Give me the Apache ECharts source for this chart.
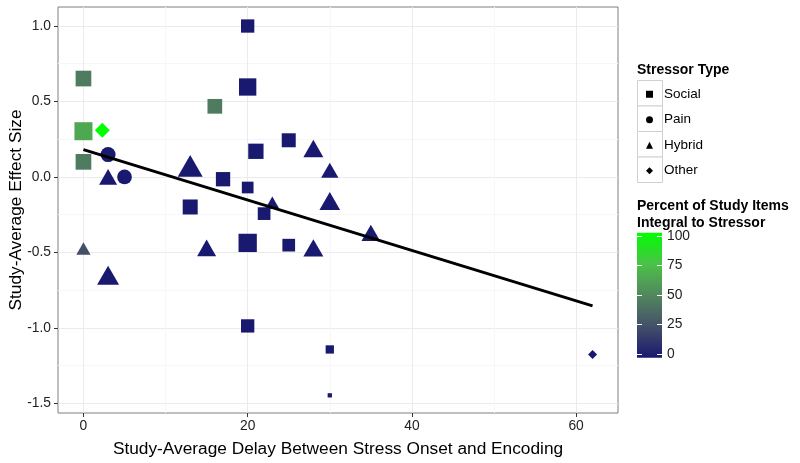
<!DOCTYPE html>
<html><head><meta charset="utf-8">
<script src="https://cdn.jsdelivr.net/npm/echarts@6/dist/echarts.min.js"></script>
<style>html,body{margin:0;padding:0;background:#fff}#c{width:800px;height:463px}</style>
</head><body><div id="c"></div>
<script>
// ---- data ----
const delay  = [20, 0, 20, 16, 0, 2.3, 3, 0, 3, 5, 13, 17, 20, 21, 25, 28, 30, 13, 22, 23, 30, 0, 3, 15, 20, 25, 28, 20, 30, 30, 35, 62];
const effect = [1.00, 0.652, 0.596, 0.468, 0.303, 0.309, 0.148, 0.10, 0.0, 0.0, 0.073, -0.015, -0.07, 0.17, 0.243, 0.188, 0.044, -0.199, -0.243, -0.17, -0.16, -0.474, -0.651, -0.47, -0.437, -0.452, -0.47, -0.987, -1.143, -1.447, -0.371, -1.176];
const stressorType = ['Social','Social','Social','Social','Social','Other','Pain','Social','Hybrid','Pain','Hybrid','Social','Social','Social','Social','Hybrid','Hybrid','Social','Social','Hybrid','Hybrid','Hybrid','Hybrid','Hybrid','Social','Social','Hybrid','Social','Social','Social','Hybrid','Other'];
const percentIntegral = [0, 45, 0, 45, 64, 100, 0, 45, 0, 0, 0, 0, 0, 0, 0, 0, 0, 0, 0, 0, 0, 25, 0, 0, 0, 0, 0, 0, 0, 0, 0, 0];
const studyWeight = [13.3, 15.7, 17.3, 14.7, 18, 15, 15, 15.7, 18, 14.7, 25, 14.3, 11.7, 15.3, 14, 20, 17.3, 15, 12.7, 14, 20.7, 14.3, 22, 19, 18.3, 12.7, 20, 13.3, 8.3, 4.3, 18.7, 9];
const stressorTypes = ['Social', 'Pain', 'Hybrid', 'Other'];
const fitX = [0, 62];
const fitY = [0.181, -0.854];
const xTicks = [0, 20, 40, 60];
const xMinorTicks = [10, 30, 50];
const yTicks = [-1.5, -1.0, -0.5, 0.0, 0.5, 1.0];
const yMinorTicks = [-1.25, -0.75, -0.25, 0.25, 0.75];
const percentTicks = [0, 25, 50, 75, 100];

// ---- styling ----
const FONT = '"Liberation Sans", Arial, sans-serif';
const symbolOf = {Social: 'rect', Pain: 'circle', Hybrid: 'triangle', Other: 'diamond'};
const gradColors = ['#191970', '#445069', '#52875e', '#4bc248', '#00ff00'];
const xRange = [-3.1, 65.1];
const yRange = [-1.564, 1.126];
const barRange = [-3, 102.8];

const chart = echarts.init(document.getElementById('c'), null, {renderer: 'canvas'});

const scatterSeries = stressorTypes.map(t => {
  const data = [];
  delay.forEach((d, i) => {
    if (stressorType[i] === t) data.push([d, effect[i], percentIntegral[i], studyWeight[i]]);
  });
  return {
    name: t, type: 'scatter', xAxisIndex: 0, yAxisIndex: 0,
    symbol: symbolOf[t],
    symbolSize: v => t === 'Hybrid' ? [v[3], v[3] * 0.87] : [v[3], v[3]],
    itemStyle: {opacity: 1},
    emphasis: {disabled: true},
    z: 2,
    data
  };
});

const gradStops = gradColors.map((c, i) => ({offset: i / (gradColors.length - 1), color: c}));

const legendRowH = 25.5, legendTop = 80;
const keyBoxes = stressorTypes.map((t, i) => ({
  type: 'rect', left: 637, top: legendTop + i * legendRowH, z: 0,
  shape: {width: 25, height: legendRowH},
  style: {fill: '#fff', stroke: '#d0d0d0', lineWidth: 1}
}));

const option = {
  backgroundColor: '#fff',
  animation: false,
  textStyle: {fontFamily: FONT},
  title: [
    {text: 'Stressor Type', left: 637, top: 63, padding: 0,
     textStyle: {fontFamily: FONT, fontSize: 14, fontWeight: 'bold', color: '#000'}},
    {text: 'Percent of Study Items\nIntegral to Stressor', left: 637, top: 198, padding: 0,
     textStyle: {fontFamily: FONT, fontSize: 14, fontWeight: 'bold', color: '#000', lineHeight: 16.5}}
  ],
  grid: [
    {left: 58, top: 7, right: 182, bottom: 50, show: true, borderColor: '#7f7f7f', borderWidth: 1,
     backgroundColor: '#fff', containLabel: false, outerBoundsMode: 'none'},
    {left: 637, top: 232.7, width: 25, height: 125, show: false, outerBoundsMode: 'none'}
  ],
  xAxis: [
    {type: 'value', gridIndex: 0, min: xRange[0], max: xRange[1],
     name: 'Study-Average Delay Between Stress Onset and Encoding', nameLocation: 'middle', nameGap: 28,
     nameMoveOverlap: false,
     nameTextStyle: {fontFamily: FONT, fontSize: 17.3, color: '#000'},
     axisLine: {show: false, onZero: false},
     axisTick: {show: true, customValues: xTicks, length: 4, lineStyle: {color: '#333'}},
     axisLabel: {customValues: xTicks, fontFamily: FONT, fontSize: 13.8, color: '#222', margin: 6},
     splitLine: {show: true, lineStyle: {color: '#ebebeb', width: 1}}},
    {type: 'value', gridIndex: 0, position: 'top', min: xRange[0], max: xRange[1],
     axisLine: {show: false, onZero: false}, axisTick: {show: false, customValues: xMinorTicks}, axisLabel: {show: false},
     splitLine: {show: true, lineStyle: {color: '#f7f7f7', width: 1}}},
    {type: 'category', gridIndex: 1, data: ['bar'], show: false}
  ],
  yAxis: [
    {type: 'value', gridIndex: 0, min: yRange[0], max: yRange[1],
     name: 'Study-Average Effect Size', nameLocation: 'middle', nameGap: 33,
     nameMoveOverlap: false,
     nameTextStyle: {fontFamily: FONT, fontSize: 17.3, color: '#000'},
     axisLine: {show: false, onZero: false},
     axisTick: {show: true, customValues: yTicks, length: 4, lineStyle: {color: '#333'}},
     axisLabel: {customValues: yTicks, fontFamily: FONT, fontSize: 13.8, color: '#222', margin: 7,
                 formatter: v => Number(v).toFixed(1)},
     splitLine: {show: true, lineStyle: {color: '#ebebeb', width: 1}}},
    {type: 'value', gridIndex: 0, position: 'right', min: yRange[0], max: yRange[1],
     axisLine: {show: false, onZero: false}, axisTick: {show: false, customValues: yMinorTicks}, axisLabel: {show: false},
     splitLine: {show: true, lineStyle: {color: '#f7f7f7', width: 1}}},
    {type: 'value', gridIndex: 1, min: 0, max: 1, show: false},
    {type: 'value', gridIndex: 1, position: 'right', min: barRange[0], max: barRange[1], z: 5,
     axisLine: {show: false, onZero: false},
     axisTick: {show: true, inside: true, length: 5, customValues: percentTicks, lineStyle: {color: '#ffffff', width: 1}},
     axisLabel: {customValues: percentTicks, fontFamily: FONT, fontSize: 13.8, color: '#222', margin: 5},
     splitLine: {show: false}},
    {type: 'value', gridIndex: 1, position: 'left', min: barRange[0], max: barRange[1], z: 5,
     axisLine: {show: false, onZero: false},
     axisTick: {show: true, inside: true, length: 5, customValues: percentTicks, lineStyle: {color: '#ffffff', width: 1}},
     axisLabel: {show: false}, splitLine: {show: false}}
  ],
  visualMap: {
    type: 'continuous', show: false, dimension: 2, min: 0, max: 100,
    seriesIndex: [0, 1, 2, 3],
    inRange: {color: gradColors}
  },
  legend: {
    orient: 'vertical', left: 646, top: legendTop + 1.5, padding: 0,
    itemWidth: 7, itemHeight: 7, itemGap: 0,
    selectedMode: false,
    data: stressorTypes.map(t => ({name: t, icon: symbolOf[t], itemStyle: {color: '#000'}})),
    textStyle: {fontFamily: FONT, fontSize: 13.5, color: '#000', lineHeight: legendRowH, padding: [0, 0, 0, 6]}
  },
  graphic: keyBoxes,
  series: [
    ...scatterSeries,
    {type: 'line', name: 'fit', xAxisIndex: 0, yAxisIndex: 0, z: 3,
     data: fitX.map((x, i) => [x, fitY[i]]),
     symbol: 'none', lineStyle: {color: '#000', width: 3}, emphasis: {disabled: true}},
    {type: 'bar', name: 'colorbar', xAxisIndex: 2, yAxisIndex: 2, barWidth: '100%', z: 1,
     data: [1],
     itemStyle: {color: new echarts.graphic.LinearGradient(0, 1, 0, 0, gradStops)},
     emphasis: {disabled: true}}
  ]
};
chart.setOption(option);
</script>
</body></html>
